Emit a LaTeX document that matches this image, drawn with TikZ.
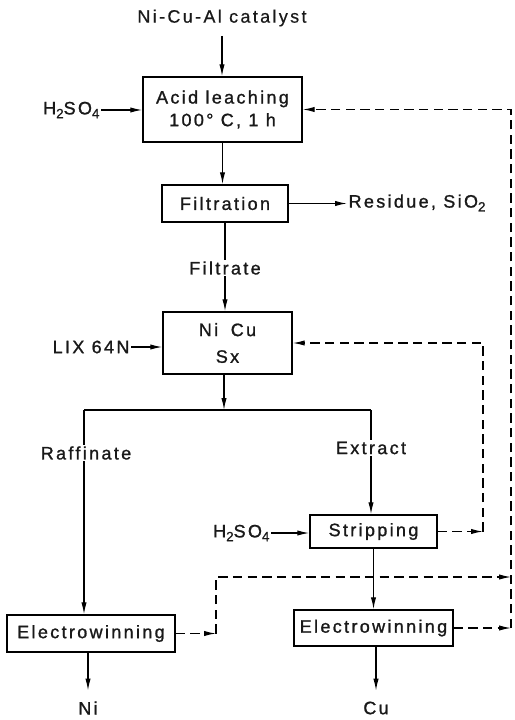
\documentclass[tikz,border=0pt]{standalone}
\usepackage{fontspec}
\setmainfont{Liberation Sans}[LetterSpace=13, FakeBold=1.2]
\newfontfamily\lightfont{Liberation Sans}[LetterSpace=13, FakeBold=0.5]
\usetikzlibrary{arrows.meta}
\newcommand{\sbs}[1]{\raisebox{-0.4ex}{\fontsize{10}{10}\selectfont #1}}
\begin{document}
\begin{tikzpicture}[x=0.75pt,y=-0.75pt,
  every node/.style={font=\fontsize{13.5}{16}\selectfont, text=black!90},
  box/.style={draw, line width=1.1pt, inner sep=0pt, align=center},
  lbl/.style={inner sep=1pt},
  conn/.style={line width=0.9pt},
  arr/.style={conn, -{Latex[length=9pt,width=4pt]}},
  dsh/.style={dash pattern=on 7pt off 4pt}]
\useasboundingbox (0,0) rectangle (514,720);

% nodes
\node[lbl, font=\fontsize{13.5}{16}\lightfont] (cat) at (222,18) {Ni-Cu-Al catalyst};
\node[box, minimum width=119.25pt, minimum height=48.75pt] (leach) at (222.5,109.5) {Acid leaching\\[1pt]100° C, 1 h};
\node[lbl, anchor=east] (acid1) at (101,110) {H\sbs{2}SO\sbs{4}};
\node[box, minimum width=94.5pt, minimum height=27.75pt] (filt) at (225,203.5) {Filtration};
\node[lbl, anchor=west] (res) at (347,203) {Residue, SiO\sbs{2}};
\node[lbl] (filtrate) at (225,268) {Filtrate};
\node[box, minimum width=96.75pt, minimum height=46.5pt] (sx) at (227.5,343) {Ni\hspace{0.7em}Cu\\[4pt]Sx};
\node[lbl, anchor=east] (lix) at (131,347) {LIX 64N};
\coordinate (split) at (224,410);
\coordinate (sl) at (84,410);
\coordinate (sr) at (371,410);
\node[lbl] (raff) at (86,453) {Raffinate};
\node[lbl] (ext) at (371,448) {Extract};
\node[box, minimum width=95.25pt, minimum height=24.75pt] (strip) at (373.5,531.5) {Stripping};
\node[lbl, anchor=east] (acid2) at (271,533) {H\sbs{2}SO\sbs{4}};
\node[box, minimum width=126pt, minimum height=27.75pt] (niew) at (91,633.5) {Electrowinning};
\node[box, minimum width=119.25pt, minimum height=27pt] (cuew) at (373.5,628) {Electrowinning};
\node[lbl] (ni) at (88,708) {Ni};
\node[lbl] (cu) at (376,708) {Cu};
\coordinate (rs) at (483,531.5);
\coordinate (nc) at (216,633.5);
\coordinate (rn) at (511,577);
\coordinate (re) at (511,628);

% solid connectors
\draw[arr, shorten <=6pt] (cat.south) -- (cat.south |- leach.north);
\draw[arr] (acid1.east) -- (acid1.east -| leach.west);
\draw[arr] (leach.south) -- (leach.south |- filt.north);
\draw[arr] (filt.east) -- (filt.east -| res.west);
\draw[conn] (filt.south) -- (filtrate.north);
\draw[arr] (filtrate.south) -- (filtrate.south |- sx.north);
\draw[arr] (lix.east) -- (lix.east -| sx.west);
\draw[arr] (sx.south -| split) -- (split);
\draw[conn] (sl) -- (sr);
\draw[conn] (sl) -- (sl |- raff.north);
\draw[arr] (sl |- raff.south) -- (sl |- niew.north);
\draw[conn] (sr) -- (sr |- ext.north);
\draw[arr] (sr |- ext.south) -- (sr |- strip.north);
\draw[arr] (acid2.east) -- (acid2.east -| strip.west);
\draw[arr] (strip.south) -- (strip.south |- cuew.north);
\draw[arr, shorten >=7pt] (niew.south -| ni) -- (ni.north);
\draw[arr, shorten >=7pt] (cuew.south -| cu) -- (cu.north);

% dashed recycle lines
\draw[arr, dsh] (strip.east) -- (rs);
\draw[arr, dsh] (rs) |- (sx.east);
\draw[arr, dsh] (niew.east) -- (nc);
\draw[arr, dsh] (nc) |- (rn);
\draw[arr, dsh] (cuew.east) -- (re);
\draw[arr, dsh] (re) |- (leach.east);
\end{tikzpicture}
\end{document}
